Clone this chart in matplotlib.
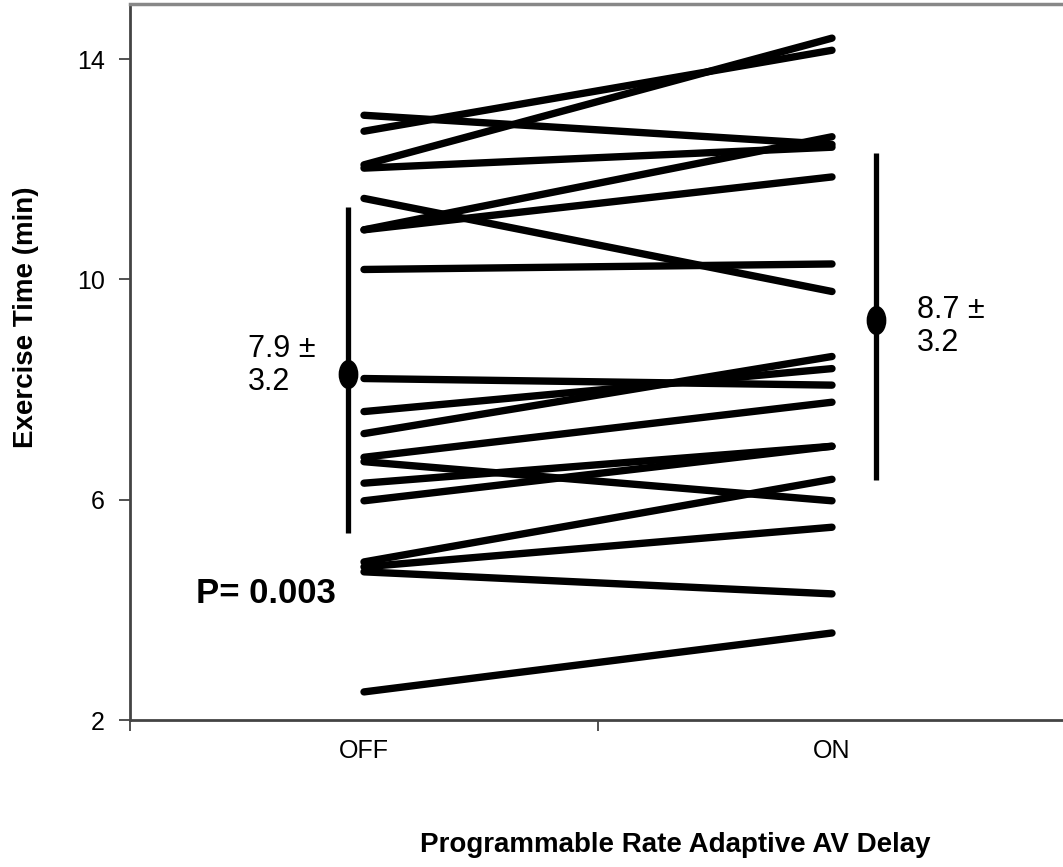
import matplotlib
matplotlib.use("Agg")
import matplotlib.pyplot as plt
from matplotlib.path import Path
from matplotlib.markers import MarkerStyle
import matplotlib.transforms as mtransforms
import numpy as np

plt.rcParams['font.family'] = ['Liberation Sans', 'DejaVu Sans']

# ---- data ----
categories = ["OFF", "ON"]
off_values = [12.98, 12.69, 12.08, 12.02, 11.47, 10.90, 10.90, 10.18,
              8.20, 7.60, 7.20, 6.77, 6.69, 6.30, 5.98, 4.87, 4.78, 4.69, 2.51]
on_values = [12.45, 14.16, 14.38, 12.40, 9.78, 12.59, 11.86, 10.28,
             8.08, 8.38, 8.60, 7.77, 5.98, 6.97, 6.97, 6.37, 5.50, 4.29, 3.58]
stat_mean = [8.28, 9.27]
stat_low = [5.39, 6.36]
stat_high = [11.31, 12.29]
stat_labels = ["7.9 \u00b1\n3.2", "8.7 \u00b1\n3.2"]
p_label = "P= 0.003"
y_ticks = [2, 6, 10, 14]
x_label = "Programmable Rate Adaptive AV Delay"
y_label = "Exercise Time (min)"

W, H = 1063, 867
fig = plt.figure(figsize=(W / 100, H / 100), dpi=100)
ax = fig.add_axes([130 / W, (H - 720) / H, 936 / W, 716 / H])

xpos = np.arange(len(categories)) + 0.5
for a, b in zip(off_values, on_values):
    ax.plot(xpos, [a, b], color='black', lw=5.3, solid_capstyle='round', zorder=3)

# summary bars with ellipse markers
circ = Path.unit_circle()
ell = circ.transformed(mtransforms.Affine2D().scale(0.66, 1.0))
stat_x = [xpos[0] - 0.034, xpos[1] + 0.094]
for x, m, lo, hi in zip(stat_x, stat_mean, stat_low, stat_high):
    ax.plot([x, x], [lo, hi], color='black', lw=3.8, solid_capstyle='butt', zorder=4)
    ax.plot([x], [m], marker=MarkerStyle(ell), markersize=20, color='black',
            linestyle='none', zorder=5)

ax.text(0.252, 8.44, stat_labels[0], fontsize=22, ha='left', va='center',
        linespacing=1.15)
ax.text(1.682, 9.14, stat_labels[1], fontsize=22, ha='left', va='center',
        linespacing=1.15)
ax.text(0.14, 4.30, p_label, fontsize=25, fontweight='bold', ha='left', va='center')

ax.set_xlim(0, 2)
ax.set_ylim(2, 15)
ax.set_yticks(y_ticks)
ax.set_yticklabels([str(t) for t in y_ticks], fontsize=18)
ax.set_xticks([0, 1, 2])
ax.set_xticklabels([])
ax.set_xticks(xpos, minor=True)
ax.set_xticklabels(categories, minor=True, fontsize=18)
ax.tick_params(axis='x', which='minor', length=0, pad=14)
ax.tick_params(axis='x', which='major', length=8, width=1.2, color='#333333')
ax.tick_params(axis='y', length=8, width=1.2, color='#333333', pad=10)

for s in ['left', 'bottom']:
    ax.spines[s].set_color('#444444')
    ax.spines[s].set_linewidth(2.0)
ax.spines['top'].set_color('#888888')
ax.spines['top'].set_linewidth(2.5)
ax.spines['right'].set_visible(False)

fig.text(675 / W, 1 - 845 / H, x_label, fontsize=20, fontweight='bold',
         ha='center', va='center')
fig.text(26 / W, 1 - 317 / H, y_label, fontsize=20, fontweight='bold',
         ha='center', va='center', rotation=90)

fig.savefig("out.png", dpi=100)
